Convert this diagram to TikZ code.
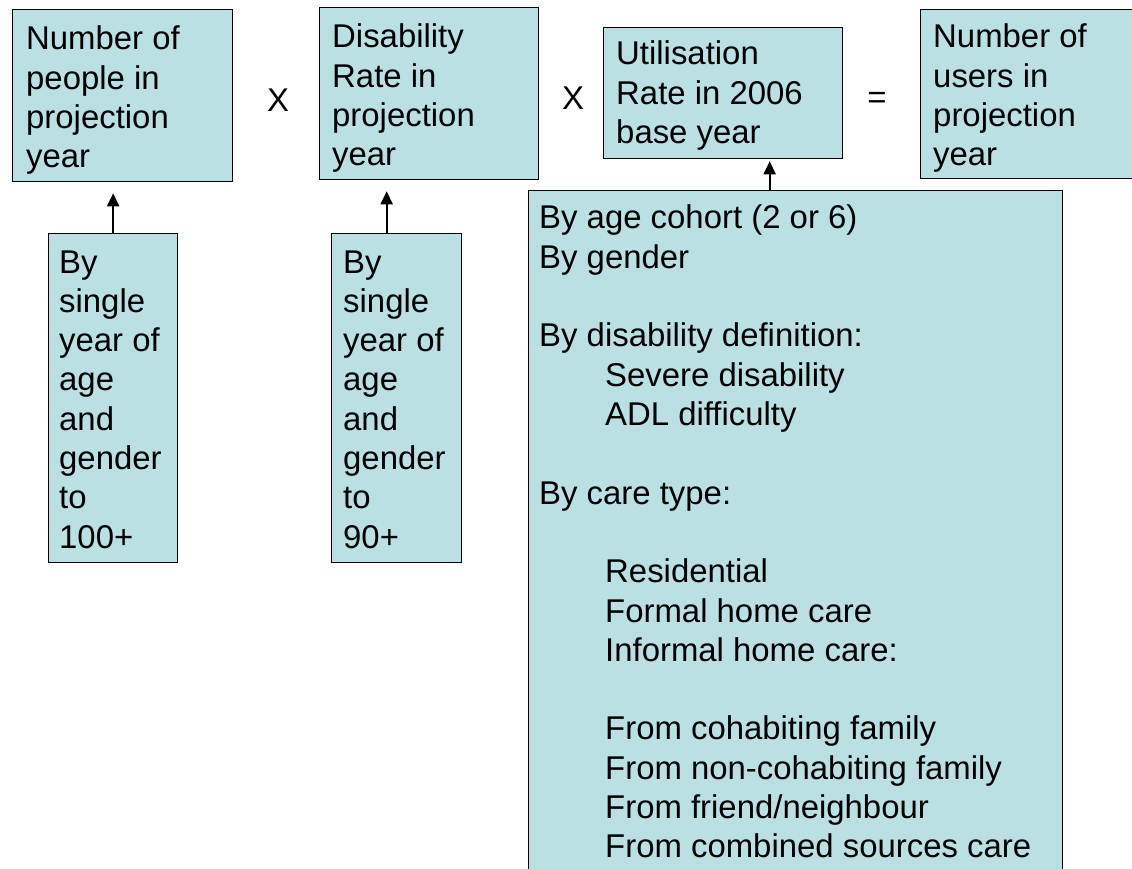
\documentclass[tikz,border=0pt]{standalone}
\usepackage{fontspec}
\setmainfont{Liberation Sans}
\usetikzlibrary{arrows.meta}
\definecolor{boxfill}{RGB}{187,224,227}
\tikzset{
  box/.style={draw=black, line width=1.3pt, fill=boxfill, inner sep=0pt, anchor=north west},
  lab/.style={inner sep=0pt, anchor=base west, font=\fontsize{32.9pt}{39.3pt}\selectfont},
  op/.style={inner sep=0pt, font=\fontsize{32.9pt}{39.3pt}\selectfont},
  arr/.style={line width=2pt, -{Triangle[length=13pt,width=12pt]}}
}
\begin{document}
\begin{tikzpicture}[x=1pt,y=-1pt]
\useasboundingbox (0,0) rectangle (1132,869);
% boxes
\node[box, minimum width=220pt, minimum height=172pt] (A) at (12,9) {};
\node[box, minimum width=219pt, minimum height=172pt] (B) at (319,7) {};
\node[box, minimum width=239pt, minimum height=131pt] (C) at (603,27) {};
\node[box, minimum width=222pt, minimum height=169pt] (D) at (920,9) {};
\node[box, minimum width=129pt, minimum height=329pt] (E) at (48,233) {};
\node[box, minimum width=130pt, minimum height=329pt] (F) at (331,233) {};
\node[box, minimum width=534pt, minimum height=690pt] (G) at (528,190) {};
% texts
\node[lab] (At) at (26,50) {\parbox[t]{300pt}{Number of\\people in\\projection\\year}};
\node[lab] (Bt) at (332,48) {\parbox[t]{300pt}{Disability\\Rate in\\projection\\year}};
\node[lab] (Ct) at (616,65) {\parbox[t]{300pt}{Utilisation\\Rate in 2006\\base year}};
\node[lab] (Dt) at (933,48) {\parbox[t]{300pt}{Number of\\users in\\projection\\year}};
\node[lab] (Et) at (59,273) {\parbox[t]{300pt}{By\\single\\year of\\age\\and\\gender\\to\\100+}};
\node[lab] (Ft) at (343,273) {\parbox[t]{300pt}{By\\single\\year of\\age\\and\\gender\\to\\90+}};
\node[lab] (Gt) at (539,229) {\parbox[t]{520pt}{By age cohort (2 or 6)\\By gender\\\mbox{}\\By disability definition:\\
\hspace*{66pt}Severe disability\\\hspace*{66pt}ADL difficulty\\\mbox{}\\By care type:\\\mbox{}\\
\hspace*{66pt}Residential\\\hspace*{66pt}Formal home care\\\hspace*{66pt}Informal home care:\\\mbox{}\\
\hspace*{66pt}From cohabiting family\\\hspace*{66pt}From non-cohabiting family\\\hspace*{66pt}From friend/neighbour\\\hspace*{66pt}From combined sources care}};
% operators
\node[op] (x1) at (278,100) {X};
\node[op] (x2) at (573,98) {X};
\node[op] (eq) at (877,100) {=};
% arrows
\draw[arr, shorten >=11pt] (E.north) -- (E.north |- A.south);
\draw[arr, shorten >=11pt] ([xshift=-10pt]F.north) -- ([xshift=-10pt]F.north |- B.south);
\draw[arr, shorten >=2pt] ([xshift=-26pt]G.north) -- ([xshift=-26pt]G.north |- C.south);
\end{tikzpicture}
\end{document}
